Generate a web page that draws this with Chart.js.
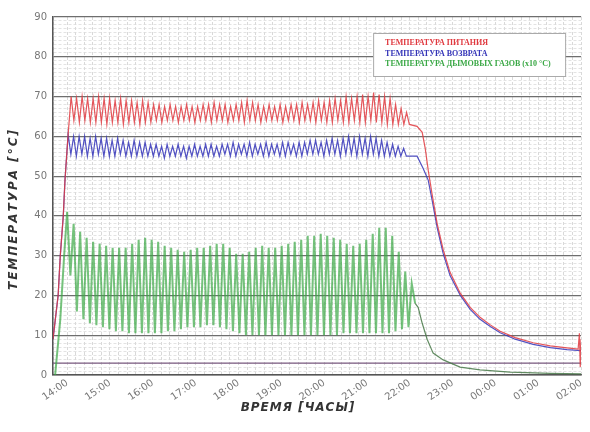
<!DOCTYPE html>
<html>
<head>
<meta charset="utf-8">
<script src="https://cdn.jsdelivr.net/npm/chart.js"></script>
<style>
  body { margin: 0; background: #fff; }
  canvas { display: block; }
</style>
</head>
<body>
<canvas id="myChart" width="590" height="432"></canvas>
<script>
// ось времени: часы (14 = 14:00, 26 = 02:00 следующего дня)
const hourLabels = ['14:00', '15:00', '16:00', '17:00', '18:00', '19:00', '20:00',
                    '21:00', '22:00', '23:00', '00:00', '01:00', '02:00'];
const timeMin = 13.67;
const timeMax = 26;

// температура питания (красная)
const supplyRampT = [13.67, 13.79, 13.84, 13.91, 13.95, 14.02];
const supplyRamp  = [9, 20, 30, 40, 49, 60];
const supplyStart = 14.093, supplyStep = 0.0642;
const supplyPeaks = [
  70, 69.5, 70, 69.5, 69.5, 70, 69.5, 69.5, 69, 69.5, 69, 69, 68.5, 69, 68.5,
  68, 68, 67.5, 68, 67.5, 67.5, 68, 67.5, 67.5, 68, 68, 68.5, 68, 68, 67.5,
  68, 68.5, 69, 68.5, 68, 67.5, 68, 67.5, 68, 67.5, 68, 68, 68.5, 68, 68.5,
  69, 68.5, 69, 69.5, 69, 70, 69.5, 70, 70.5, 70, 71, 70.5, 70, 69.5, 68, 67, 66
];
const supplyTroughs = [
  64, 63.5, 64, 63.5, 63.5, 63.5, 63, 63.5, 63.5, 63, 63.5, 63.5, 63, 63.5, 63.5,
  64, 63.5, 64, 64, 63.5, 64, 64, 63.5, 64, 64, 63.5, 64, 64, 63.5, 64,
  64, 63.5, 64, 64, 63.5, 64, 64, 64, 63.5, 64, 64, 63.5, 64, 64, 63.5,
  64, 63.5, 63.5, 64, 63.5, 63.5, 64, 63.5, 63.5, 64, 63.5, 63.5, 63, 63, 63, 63, 63
];
const supplyDecayT = [22.17, 22.29, 22.36, 22.43, 22.52, 22.64, 22.78, 22.94, 23.18, 23.41,
                      23.64, 23.88, 24.11, 24.46, 24.88, 25.28, 25.67, 25.93, 25.96, 25.98, 26.0];
const supplyDecay  = [62.5, 61, 57, 51.5, 45.5, 38, 31.5, 25.8, 20.5, 17,
                      14.5, 12.6, 11, 9.4, 8.1, 7.3, 6.8, 6.5, 10.5, 2, 9];

// температура возврата (синяя)
const returnRampT = [13.67, 13.79, 13.84, 13.91, 13.95];
const returnRamp  = [9, 20, 30, 40, 49];
const returnStart = 14.023, returnStep = 0.0642;
const returnPeaks = [
  60.5, 60, 60, 60, 59.5, 60, 59.5, 59.5, 59, 59.5, 59, 58.5, 59, 58.5, 58.5,
  58, 58, 57.5, 58, 57.5, 58, 57.5, 57.5, 58, 57.5, 58, 58, 57.5, 58, 58,
  58.5, 58, 58, 58.5, 58, 58, 58.5, 58, 58, 58.5, 58.5, 58, 58.5, 58.5, 59,
  59, 58.5, 59, 59.5, 59, 59.5, 60, 59.5, 60, 59.5, 60, 59.5, 59, 58.5, 58, 57.5, 57
];
const returnTroughs = [
  55.5, 55, 55.5, 55, 55, 55.5, 55, 55, 55, 55.5, 55, 55, 55, 55, 55,
  55, 55, 54.5, 55, 55, 55, 54.5, 55, 55, 55, 55, 55, 55, 55.5, 55,
  55, 55.5, 55, 55, 55.5, 55, 55, 55.5, 55, 55, 55.5, 55, 55, 55.5, 55.5,
  55.5, 55, 55.5, 55.5, 55, 55.5, 55.5, 55, 55.5, 55, 55.5, 55, 55, 55, 55, 55, 55
];
const returnDecayT = [22.17, 22.31, 22.43, 22.52, 22.64, 22.78, 22.94, 23.18, 23.41,
                      23.64, 23.88, 24.11, 24.46, 24.88, 25.28, 25.67, 26.0];
const returnDecay  = [55, 52, 49, 44, 37, 30.5, 25, 20, 16.5,
                      14, 12.2, 10.6, 9, 7.7, 6.9, 6.4, 6.1];

// температура дымовых газов (x10 °C, зелёная)
const flueRampT = [13.72, 13.84, 13.93];
const flueRamp  = [0, 14, 30];
const flueStart = 14.0, flueStep = 0.0759;
const fluePeaks = [
  41, 38, 36, 34.5, 33.5, 33, 32.5, 32, 32, 32, 33, 34, 34.5, 34, 33.5, 32.5, 32, 31.5,
  31, 31.5, 32, 32, 32.5, 33, 33, 32, 30.5, 30.5, 31, 32, 32.5, 32, 32, 32.5, 33, 33.5,
  34, 35, 35, 35.5, 35, 34.5, 34, 33, 32.5, 33, 34, 35.5, 37, 37, 35, 31, 26, 23
];
const flueTroughs = [
  25, 16, 14, 13, 12.5, 12, 11.5, 11, 11, 10.5, 10.5, 10.5, 10.5, 10.5, 10.5, 11, 11, 11.5,
  12, 12, 12, 12.5, 12.5, 12, 11.5, 11, 10.5, 10, 10, 10, 10, 10, 10, 10, 10, 10,
  10, 10, 10, 10, 10, 10, 10.5, 10.5, 10.5, 10.5, 10.5, 10.5, 10.5, 10.5, 11, 11.5, 12
];
const flueTailT = [22.125, 22.195, 22.29, 22.405, 22.545, 22.78, 23.175, 23.64, 24.34, 25.28, 26.0];
const flueTail  = [18, 17, 13, 9, 5.5, 3.8, 2, 1.3, 0.7, 0.4, 0.3];

// горизонтальная линия уровня
const levelT = [timeMin, timeMax];
const levelLine = [3, 3];

const seriesLabels = ['ТЕМПЕРАТУРА ПИТАНИЯ', 'ТЕМПЕРАТУРА ВОЗВРАТА', 'ТЕМПЕРАТУРА ДЫМОВЫХ ГАЗОВ (x10 °C)'];
const seriesColors = ['#e0393f', '#3434b8', '#3aa845'];

function pairs(ts, vs) {
  return vs.map((v, i) => ({ x: ts[i], y: v }));
}
function zigzag(t0, dt, peaks, troughs) {
  const pts = [];
  for (let i = 0; i < peaks.length; i++) {
    pts.push({ x: t0 + 2 * i * dt, y: peaks[i] });
    if (i < troughs.length) pts.push({ x: t0 + (2 * i + 1) * dt, y: troughs[i] });
  }
  return pts;
}

const supplyData = pairs(supplyRampT, supplyRamp)
  .concat(zigzag(supplyStart, supplyStep, supplyPeaks, supplyTroughs))
  .concat(pairs(supplyDecayT, supplyDecay));
const returnData = pairs(returnRampT, returnRamp)
  .concat(zigzag(returnStart, returnStep, returnPeaks, returnTroughs))
  .concat(pairs(returnDecayT, returnDecay));
const flueData = pairs(flueRampT, flueRamp)
  .concat(zigzag(flueStart, flueStep, fluePeaks, flueTroughs))
  .concat(pairs(flueTailT, flueTail));

// легенда внутри графика и подписи осей
const overlay = {
  id: 'overlay',
  afterDraw(chart) {
    const ctx = chart.ctx;
    const area = chart.chartArea;
    ctx.save();
    const bx = area.right - 208, by = area.top + 16;
    ctx.fillStyle = '#fff';
    ctx.fillRect(bx, by, 192, 43);
    ctx.strokeStyle = '#aaa';
    ctx.lineWidth = 1;
    ctx.strokeRect(bx + 0.5, by + 0.5, 192, 43);
    ctx.font = 'bold 8px "Liberation Serif"';
    ctx.textBaseline = 'middle';
    ctx.textAlign = 'left';
    chart.data.datasets.forEach((ds, i) => {
      if (!ds.label) return;
      ctx.fillStyle = seriesColors[i];
      ctx.fillText(ds.label, bx + 12, by + 10 + i * 10.5);
    });

    ctx.fillStyle = '#333';
    ctx.font = 'bold italic 12px "DejaVu Sans"';
    ctx.textAlign = 'center';
    ctx.letterSpacing = '1px';
    ctx.fillText('ВРЕМЯ [ЧАСЫ]', 298, 408);
    ctx.translate(14, 209);
    ctx.rotate(-Math.PI / 2);
    ctx.letterSpacing = '2px';
    ctx.fillText('ТЕМПЕРАТУРА [°C]', 0, 0);
    ctx.restore();
  }
};

const ctx = document.getElementById('myChart').getContext('2d');
new Chart(ctx, {
  type: 'line',
  data: {
    datasets: [
      { label: seriesLabels[0], data: supplyData, borderColor: 'rgba(224,57,63,0.85)', borderWidth: 1.2 },
      { label: seriesLabels[1], data: returnData, borderColor: 'rgba(52,52,184,0.85)', borderWidth: 1.2 },
      {
        label: seriesLabels[2], data: flueData, borderColor: 'rgba(58,168,69,0.7)', borderWidth: 2,
        segment: {
          borderWidth: c => (c.p0.parsed.x >= 22.1 ? 1.2 : undefined),
          borderColor: c => (c.p0.parsed.x >= 22.1 ? 'rgba(70,120,70,0.85)' : undefined)
        }
      },
      { label: '', data: pairs(levelT, levelLine), borderColor: '#7a5a80', borderWidth: 1.3 }
    ]
  },
  options: {
    responsive: false,
    animation: false,
    devicePixelRatio: 1,
    elements: { point: { radius: 0 }, line: { tension: 0 } },
    layout: { padding: { left: 0, top: 17, right: 6, bottom: 0 } },
    plugins: { legend: { display: false }, tooltip: { enabled: false } },
    scales: {
      x: {
        type: 'linear',
        min: timeMin,
        max: timeMax,
        afterFit: s => { s.height = 57; },
        ticks: {
          stepSize: 0.2,
          autoSkip: false,
          minRotation: 35,
          maxRotation: 35,
          padding: 2,
          color: '#777',
          font: { family: 'DejaVu Sans', size: 10 },
          callback: v => {
            const h = Math.round(v);
            return Math.abs(v - h) < 1e-6 && hourLabels[h - 14] ? hourLabels[h - 14] : '';
          }
        },
        grid: { color: '#cfcfcf', lineWidth: 0.8, drawTicks: false },
        border: { color: '#555', width: 1.5, dash: c => (c.tick ? [3, 2] : []) }
      },
      y: {
        min: 0,
        max: 90,
        afterFit: s => { s.width = 53; },
        ticks: {
          stepSize: 1,
          autoSkip: false,
          padding: 6,
          color: '#777',
          font: { family: 'DejaVu Sans', size: 10 },
          callback: v => (v % 10 === 0 ? String(v) : '')
        },
        grid: {
          drawTicks: false,
          color: c => (c.tick && c.tick.value % 10 === 0 ? '#6e6e6e' : '#dcdcdc'),
          lineWidth: c => (c.tick && c.tick.value % 10 === 0 ? 1.2 : 0.8)
        },
        border: { color: '#555', width: 1.5, dash: c => (c.tick && c.tick.value % 10 !== 0 ? [3, 2] : []) }
      }
    }
  },
  plugins: [overlay]
});
</script>
</body>
</html>
